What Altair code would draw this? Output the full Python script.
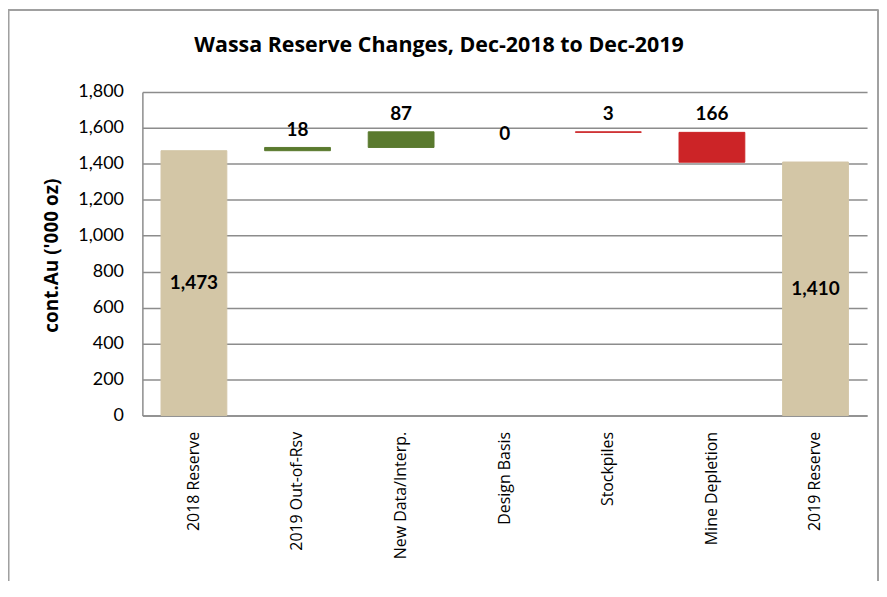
import altair as alt
import pandas as pd

categories = ["2018 Reserve", "2019 Out-of-Rsv", "New Data/Interp.", "Design Basis",
              "Stockpiles", "Mine Depletion", "2019 Reserve"]
changes = [1473, 18, 87, 0, -3, -166, 1410]
kinds = ["total", "delta", "delta", "delta", "delta", "delta", "total"]
y_ticks = [0, 200, 400, 600, 800, 1000, 1200, 1400, 1600, 1800]

rows = []
running = 0
for cat, val, kind in zip(categories, changes, kinds):
    if kind == "total":
        start, end = 0, val
        running = val
        label = f"{val:,}"
        ptype = "Total"
        ly = val / 2
    else:
        start, end = running, running + val
        running = end
        label = f"{abs(val):,}"
        ptype = "Increase" if val >= 0 else "Decrease"
        ly = max(start, end)
    rows.append(dict(cat=cat, start=start, end=end, label=label, ptype=ptype,
                     kind=kind, ly=ly, zero=(val == 0)))
df = pd.DataFrame(rows)

FONT = "Lato"
WIDE = "Open Sans"
yscale = alt.Scale(domain=[0, 1800])
xscale = alt.Scale(paddingInner=0.365, paddingOuter=0.18)
x_axis = alt.Axis(title=None, labelAngle=-90, labelAlign="right", labelBaseline="middle",
                  labelFontSize=16, labelFont=WIDE, labelColor="#000000",
                  labelPadding=16, ticks=False, domainColor="#8c8c8c",
                  domainWidth=1.5, labelLimit=300, grid=False)
y_axis = alt.Axis(values=y_ticks, format=",d", labelOverlap=False,
                  title="cont.Au ('000 oz)",
                  titleFont=WIDE, titleFontSize=19, titleFontWeight="bold",
                  titleAngle=270, titleX=-91, titleY=164, titleAlign="center",
                  titleBaseline="middle", titleColor="#000000",
                  labelFont=FONT, labelFontSize=18, labelColor="#000000", labelPadding=19,
                  ticks=False, domainColor="#8c8c8c", domainWidth=1.5,
                  grid=True, gridColor="#8c8c8c", gridWidth=1.5)
xenc = alt.X("cat:N", sort=categories, scale=xscale, axis=x_axis)

pal = alt.Scale(domain=["Total", "Increase", "Decrease"], range=["#D3C6A6", "#5A7A2E", "#CC2427"])

bars = alt.Chart(df).transform_filter(alt.datum.zero == False).mark_bar(strokeWidth=1).encode(
    x=xenc,
    y=alt.Y("start:Q", scale=yscale, axis=y_axis),
    y2="end:Q",
    color=alt.Color("ptype:N", scale=pal, legend=None),
    stroke=alt.Stroke("ptype:N", scale=pal, legend=None),
)

def labels(filt, dy):
    return alt.Chart(df).transform_filter(filt).mark_text(
        font=FONT, fontSize=19, fontWeight="bold", color="#000000", baseline="middle", dy=dy).encode(
        x=xenc, y=alt.Y("ly:Q", scale=yscale, axis=y_axis), text="label:N")

txt_total = labels(alt.datum.kind == "total", 0)
txt_delta = labels((alt.datum.kind == "delta") & (alt.datum.zero == False), -18)
txt_zero = labels(alt.datum.zero == True, 2)

frame_col = "#a0a0a0"
frame_top = alt.Chart(df).mark_rule(color=frame_col, strokeWidth=1.2).encode(
    x=alt.value(-134.5), x2=alt.value(739), y=alt.value(-82.5))
frame_left = alt.Chart(df).mark_rule(color=frame_col, strokeWidth=1.2).encode(
    x=alt.value(-134.5), y=alt.value(-82.5), y2=alt.value(500))
frame_right = alt.Chart(df).mark_rule(color=frame_col, strokeWidth=1.2).encode(
    x=alt.value(739), y=alt.value(-82.5), y2=alt.value(500))

chart = alt.layer(bars, txt_total, txt_delta, txt_zero, frame_top, frame_left, frame_right).properties(
    width=728, height=325,
    title=alt.TitleParams("Wassa Reserve Changes, Dec-2018 to Dec-2019", font=WIDE, fontSize=21.5,
                          fontWeight="bold", color="#000000", anchor="middle", dx=-66, offset=-47),
    autosize=alt.AutoSizeParams(type="none"),
    padding={"left": 135, "top": 83, "right": 12, "bottom": 165},
).configure_view(stroke=None)

chart.save("out.html", embed_options={"renderer": "svg", "actions": False})
